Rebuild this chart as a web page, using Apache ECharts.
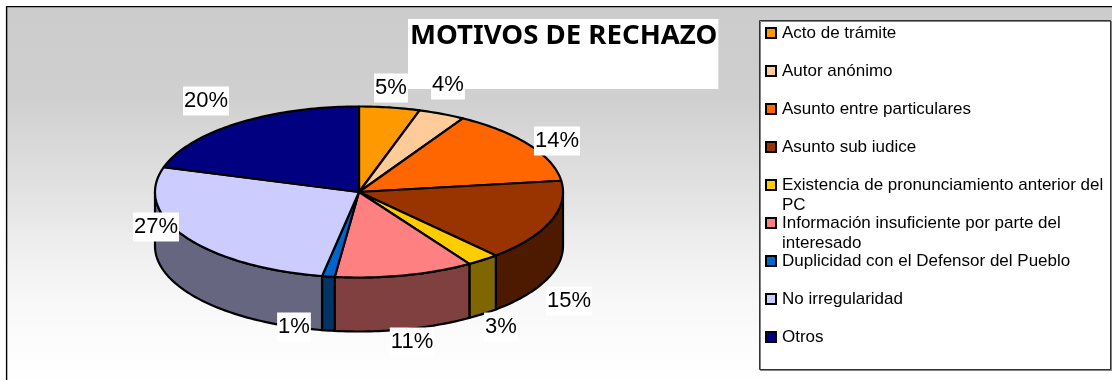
<!DOCTYPE html>
<html><head><meta charset="utf-8">
<style>html,body{margin:0;padding:0;background:#fff}#c{width:1112px;height:380px}</style>
<script src="https://cdn.jsdelivr.net/npm/echarts@6/dist/echarts.min.js"></script>
</head><body><div id="c"></div>
<script>
const titleText = 'MOTIVOS DE RECHAZO';
const categories = ['Acto de trámite','Autor anónimo','Asunto entre particulares','Asunto sub iudice','Existencia de pronunciamiento anterior del\nPC','Información insuficiente por parte del\ninteresado','Duplicidad con el Defensor del Pueblo','No irregularidad','Otros'];
const values = [4.8,3.7,14.4,15.4,2.6,11.0,1.0,26.8,20.3];
const topColors = ['#FF9900','#FFCC99','#FF6600','#993300','#FFCC00','#FF8080','#0066CC','#CCCCFF','#000080'];
const wallColors = ['#805000','#806650','#803300','#4D1A00','#806600','#804040','#003366','#666680','#000040'];
const labelAnchors = [[391,88],[448,85],[557,141],[569,301],[501,327],[412,342],[294,327],[156,227],[206,101]];

const CX=359, CY=192, RX=204, RY=85.5, DEPTH=54;
const total = values.reduce((a,b)=>a+b,0);
const startFrac = i => values.slice(0,i).reduce((a,b)=>a+b,0)/total;
const px = t => CX+RX*Math.sin(t);
const py = t => CY-RY*Math.cos(t);
function arcPts(a,b,dy){const n=Math.max(2,Math.ceil((b-a)/0.02));const p=[];for(let k=0;k<=n;k++){const t=a+(b-a)*k/n;p.push([px(t),py(t)+dy]);}return p;}

function renderSlice(idx){
  return function(params,api){
    const v=api.value(0);
    const a=startFrac(idx)*2*Math.PI, b=a+v/total*2*Math.PI;
    const kids=[];
    const lo=Math.max(a,Math.PI/2), hi=Math.min(b,Math.PI*1.5);
    const line={stroke:'#000',lineWidth:2.2,lineJoin:'round'};
    if(hi>lo){
      const pts=arcPts(lo,hi,0).concat(arcPts(lo,hi,DEPTH).reverse());
      kids.push({type:'polygon',z2:1,shape:{points:pts},style:Object.assign({fill:wallColors[idx]},line)});
    }
    kids.push({type:'polygon',z2:2,shape:{points:[[CX,CY]].concat(arcPts(a,b,0))},style:Object.assign({fill:topColors[idx]},line)});
    const at=labelAnchors[idx];
    kids.push({type:'text',z2:5,x:at[0],y:at[1],style:{text:Math.round(v/total*100)+'%',fill:'#000',font:'22px "Liberation Sans"',align:'center',verticalAlign:'middle',backgroundColor:'#fff',padding:[4,1,3,1]}});
    return {type:'group',children:kids};
  };
}

const series = categories.map((name,i)=>({
  type:'custom',name,coordinateSystem:'none',silent:true,animation:false,
  z:8,
  itemStyle:{color:topColors[i]},
  renderItem:renderSlice(i),
  data:[[values[i]]]
}));

const chart = echarts.init(document.getElementById('c'),null,{renderer:'canvas'});
chart.setOption({
  animation:false,
  title:{text:titleText,left:408,top:19,z:1,padding:[0,1,36,2],backgroundColor:'#fff',
    textStyle:{fontFamily:'"Noto Sans"',fontWeight:'bold',fontSize:27.6,lineHeight:34,color:'#000'}},
  graphic:[
    {type:'rect',z:-10,shape:{x:6.6,y:6.6,width:1120,height:380},
     style:{stroke:'#000',lineWidth:1.4,fill:new echarts.graphic.LinearGradient(0,0,0,1,[
       {offset:0,color:'#cccccc'},{offset:0.17,color:'#cecece'},{offset:0.25,color:'#d0d0d0'},{offset:0.38,color:'#dadada'},
       {offset:0.51,color:'#e4e4e4'},{offset:0.64,color:'#efefef'},{offset:0.78,color:'#f8f8f8'},{offset:0.91,color:'#fdfdfd'},{offset:1,color:'#ffffff'}])}},
    {type:'rect',z:-5,shape:{x:759.5,y:20.5,width:351,height:349},
     style:{fill:'#fff',stroke:'#333',lineWidth:1,shadowColor:'#808080',shadowBlur:0,shadowOffsetX:1,shadowOffsetY:1}}
  ],
  legend:{
    orient:'vertical',left:761,top:3,padding:[0,0,0,4],itemGap:-22,itemWidth:10,itemHeight:10,icon:'rect',
    data:categories.map((name,i)=>({name,itemStyle:{color:topColors[i],borderColor:'#000',borderWidth:2}})),
    formatter:n=>n.indexOf('\n')>=0?'\n'+n:'\n'+n+'\n ',
    textStyle:{fontFamily:'"Liberation Sans"',fontSize:17,lineHeight:20,color:'#000',padding:[0,0,0,1]},
    selectedMode:false
  },
  series
});
</script></body></html>
